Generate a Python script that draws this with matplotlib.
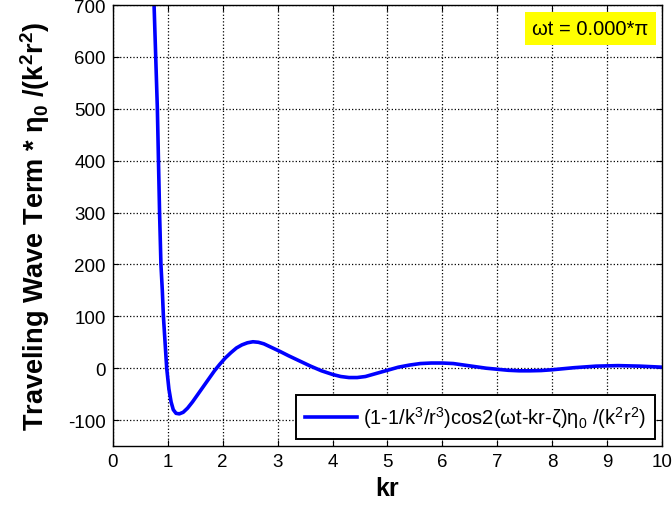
import matplotlib
matplotlib.use("Agg")
import matplotlib.pyplot as plt

plt.rcParams['font.family'] = ['Liberation Sans', 'DejaVu Sans']
plt.rcParams['mathtext.fontset'] = 'custom'
plt.rcParams['mathtext.rm'] = 'Liberation Sans'
plt.rcParams['mathtext.it'] = 'Liberation Sans:italic'
plt.rcParams['mathtext.bf'] = 'Liberation Sans:bold'
plt.rcParams['axes.unicode_minus'] = False

# Traveling wave term sampled along kr
kr = [0.75, 0.78, 0.81, 0.83, 0.85, 0.875, 0.90, 0.92, 0.95, 0.98,
      1.02, 1.06, 1.10, 1.15, 1.21, 1.28, 1.36, 1.45, 1.55, 1.65,
      1.75, 1.85, 1.95, 2.05, 2.15, 2.25, 2.35, 2.45, 2.55, 2.65,
      2.75, 2.85, 2.95, 3.05, 3.2, 3.4, 3.6, 3.8, 4.0, 4.15,
      4.3, 4.45, 4.6, 4.8, 5.0, 5.2, 5.4, 5.6, 5.8, 6.0,
      6.2, 6.4, 6.6, 6.8, 7.0, 7.2, 7.4, 7.6, 7.8, 8.0,
      8.2, 8.4, 8.6, 8.8, 9.0, 9.2, 9.4, 9.6, 9.8, 10.0]
wave = [700, 600, 500, 400, 300, 200, 150, 100, 50, 0,
        -40, -65, -80, -87, -88, -85, -77, -65, -50, -35,
        -20, -5, 8, 20, 30, 39, 45, 49, 51, 50,
        47, 42, 37, 32, 24, 14, 4, -5, -12, -16,
        -18, -18, -16, -10, -4, 2, 6, 9, 10, 10,
        9, 6, 3, 0, -2, -4, -5, -5, -4.5, -3,
        -1, 1, 2.5, 4, 4.5, 5, 4.5, 4, 3, 2]

x_ticks = list(range(0, 11))
y_ticks = [-100, 0, 100, 200, 300, 400, 500, 600, 700]
phase_label = "ωt = 0.000*π"
legend_label = r"(1-1/k$^3$/r$^3$)cos2(ωt-kr-ζ)η$_0$ /(k$^2$r$^2$)"

fig = plt.figure(figsize=(6.72, 5.10), dpi=100)
ax = fig.add_axes([0.168, 0.1235, 0.817, 0.8645])

ax.plot(kr, wave, color='#0000ff', linewidth=2.6, label=legend_label)

ax.set_xlim(0, 10)
ax.set_ylim(-150, 700)
ax.set_xticks(x_ticks)
ax.set_yticks(y_ticks)
ax.tick_params(direction='in', top=True, right=True, length=4, width=0.8,
               labelsize=13.5, colors='black', pad=5)
ax.grid(True, color='black', linestyle=':', linewidth=0.9)
for s in ax.spines.values():
    s.set_linewidth(1.0)
    s.set_color('black')

ax.set_xlabel('kr', fontsize=18, fontweight='bold', labelpad=4)
ax.set_ylabel(r"Traveling Wave Term * η$_\mathbf{0}$ /(k$^\mathbf{2}$r$^\mathbf{2}$)",
              fontsize=19.5, fontweight='bold', labelpad=12)

ax.text(0.976, 0.968, phase_label, transform=ax.transAxes, ha='right', va='top',
        fontsize=14.5, bbox=dict(boxstyle='square,pad=0.35', facecolor='#ffff00',
                                 edgecolor='none'))

leg = ax.legend(loc='lower right', fontsize=14.5, frameon=True, fancybox=False,
                edgecolor='black', framealpha=1, handlelength=2.6,
                handletextpad=0.3, borderaxespad=0.35, borderpad=0.45)
leg.get_frame().set_linewidth(1.4)

fig.savefig('out.png', dpi=100)
